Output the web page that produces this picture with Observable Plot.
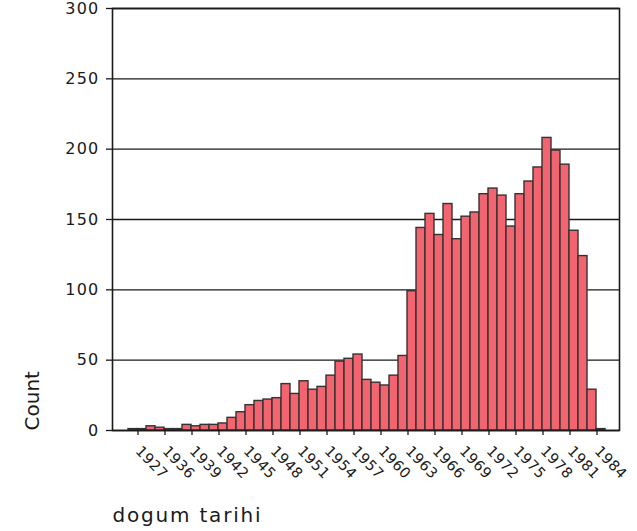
<!DOCTYPE html>
<html>
<head>
<meta charset="utf-8">
<script src="https://cdn.jsdelivr.net/npm/d3@7"></script>
<script src="https://cdn.jsdelivr.net/npm/@observablehq/plot@0.6"></script>
<style>
  html, body { margin: 0; padding: 0; background: #fff; }
  #chart { width: 637px; height: 531px; }
</style>
</head>
<body>
<div id="chart"></div>
<script>
// Birth-year categories (one bar each; bars 2 and 3 are unlabeled years)
const years = [
  "1927","1930","1933","1936","1937","1938","1939","1940","1941","1942",
  "1943","1944","1945","1946","1947","1948","1949","1950","1951","1952",
  "1953","1954","1955","1956","1957","1958","1959","1960","1961","1962",
  "1963","1964","1965","1966","1967","1968","1969","1970","1971","1972",
  "1973","1974","1975","1976","1977","1978","1979","1980","1981","1982",
  "1983","1984","1985"
];
const counts = [
  1, 1, 3, 2, 1, 1, 4, 3, 4, 4,
  5, 9, 13, 18, 21, 22, 23, 33, 26, 35,
  29, 31, 39, 49, 51, 54, 36, 34, 32, 39,
  53, 99, 144, 154, 139, 161, 136, 152, 155, 168,
  172, 167, 145, 168, 177, 187, 208, 199, 189, 142,
  124, 29, 1
];
const xTickLabels = [
  "1927","1936","1939","1942","1945","1948","1951","1954","1957","1960",
  "1963","1966","1969","1972","1975","1978","1981","1984"
];
const yTickValues = [0, 50, 100, 150, 200, 250, 300];
const xTitle = "dogum tarihi";
const yTitle = "Count";

const data = years.map((y, i) => ({year: y, count: counts[i]}));

const chart = Plot.plot({
  width: 637,
  height: 531,
  marginLeft: 112,
  marginRight: 18,
  marginTop: 8,
  marginBottom: 101,
  style: {fontFamily: "DejaVu Sans", color: "#1a1a1a", background: "#fff"},
  x: {type: "band", domain: years, padding: 0, insetLeft: 13, insetRight: 12},
  y: {domain: [0, 300]},
  marks: [
    Plot.gridY(yTickValues, {stroke: "#1a1a1a", strokeOpacity: 1, strokeWidth: 1.3}),
    Plot.barY(data, {x: "year", y: "count", fill: "#f26470", stroke: "#333", strokeWidth: 1.4}),
    Plot.frame({stroke: "#1a1a1a", strokeWidth: 1.6}),
    Plot.axisY(yTickValues, {tickSize: 6, tickPadding: 7, fontSize: 16, label: null, stroke: "#1a1a1a", strokeWidth: 1.3}),
    Plot.axisX(xTickLabels, {tickRotate: 46, tickSize: 5, tickPadding: 13, dx: 5, fontSize: 14.5, label: null, stroke: "#1a1a1a", strokeWidth: 1.3}),
    Plot.text([yTitle], {text: d => d, frameAnchor: "bottom-left", rotate: -90, textAnchor: "start", dx: -74, fontSize: 20, fill: "#1a1a1a"}),
    Plot.text([xTitle], {text: d => d, frameAnchor: "bottom-left", textAnchor: "start", dy: 91, fontSize: 20, fill: "#1a1a1a"})
  ]
});

document.getElementById("chart").appendChild(chart);

// widen the lettering a little, as in the reference
d3.select(chart).selectAll("text").each(function() {
  const t = this.textContent;
  if (t === xTitle) this.setAttribute("letter-spacing", "1.8");
  else if (/^\d{4}$/.test(t)) this.setAttribute("letter-spacing", "0.5");
  else if (/^\d+$/.test(t)) this.setAttribute("letter-spacing", "1.2");
});
</script>
</body>
</html>
